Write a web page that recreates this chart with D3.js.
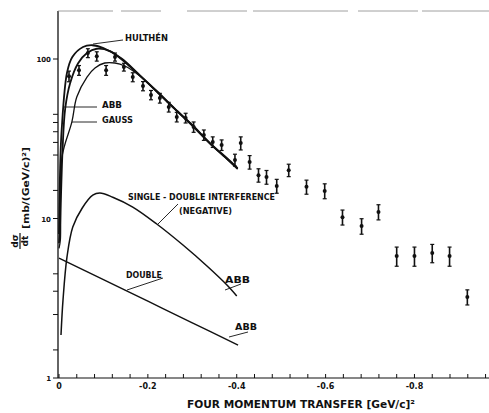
<!DOCTYPE html>
<html lang="en">
<head>
<meta charset="UTF-8">
<title>d sigma / dt vs four momentum transfer</title>
<script src="https://d3js.org/d3.v7.min.js"></script>
<style>
    body, html { margin: 0; background: #fff; }
    text { font-family: "DejaVu Sans", sans-serif; font-weight: bold; fill: #111; }
</style>
</head>
<body>
<div id="chart"></div>
<script>
// measured points: four momentum transfer t [(GeV/c)^2], dsigma/dt [mb/(GeV/c)^2], error
var pointT = [-0.0225, -0.045, -0.065, -0.085, -0.106, -0.126, -0.146, -0.166, -0.189, -0.207,
              -0.227, -0.247, -0.265, -0.285, -0.303, -0.326, -0.346, -0.366, -0.396, -0.409,
              -0.429, -0.449, -0.467, -0.49, -0.517, -0.557, -0.598, -0.638, -0.681, -0.719,
              -0.76, -0.8, -0.84, -0.879, -0.919];
var pointV = [78, 85, 109, 104, 85, 103, 89, 77, 67.7, 59.5,
              56.9, 50, 43.3, 42.7, 37.5, 33.4, 30.2, 28.9, 23.3, 29.7,
              22.6, 18.7, 18.2, 16, 20.1, 15.8, 14.9, 10.2, 8.97, 11,
              5.82, 5.82, 6.08, 5.82, 3.22];
var pointErr = [6, 6, 7, 7, 6, 6, 5, 5, 4.5, 4,
                4, 3.5, 3, 3, 2.8, 2.5, 2.3, 2.2, 2, 2.8,
                2.2, 1.8, 1.8, 1.6, 1.8, 1.6, 1.6, 1.1, 1.0, 1.2,
                0.8, 0.8, 0.8, 0.8, 0.35];

// calculated curves
var hulthenT = [0, -0.003, -0.006, -0.018, -0.03, -0.054, -0.075, -0.1, -0.14, -0.18, -0.22, -0.26, -0.3, -0.34, -0.38, -0.402];
var hulthenV = [8, 23, 36, 82, 103, 119, 122, 117, 101, 80, 63, 49, 38.6, 29.7, 23.6, 20.7];

var abbT = [0, -0.002, -0.008, -0.014, -0.025, -0.043, -0.063, -0.085, -0.115, -0.14, -0.18, -0.22, -0.26, -0.3, -0.34, -0.38, -0.402];
var abbV = [7, 8.5, 27, 49, 70.5, 94, 109, 116, 112, 100, 79.5, 62.5, 48.8, 38.3, 29.5, 23.4, 20.5];

var gaussT = [0, -0.003, -0.0067, -0.029, -0.04, -0.063, -0.081, -0.103, -0.126, -0.148, -0.18, -0.22, -0.26, -0.3, -0.34, -0.38, -0.402];
var gaussV = [6.5, 7.3, 24.3, 40.3, 57.8, 77.1, 87.9, 94.4, 94.4, 90.4, 79, 62.3, 48.6, 38.2, 29.4, 23.3, 20.4];

var interfT = [-0.0045, -0.009, -0.018, -0.031, -0.052, -0.076, -0.092, -0.121, -0.166, -0.22, -0.279, -0.333, -0.378, -0.4];
var interfV = [1.86, 3.08, 5.74, 8.85, 11.6, 14.0, 14.45, 13.6, 11.8, 9.24, 6.82, 5.04, 3.83, 3.27];

var doubleT = [0, -0.1, -0.2, -0.3, -0.403];
var doubleV = [5.65, 4.14, 3.03, 2.22, 1.61];

// axis ticks
var xLabelTicks = [0, -0.2, -0.4, -0.6, -0.8];
var xLabelText = ["0", "-0.2", "-0.4", "-0.6", "-0.8"];
var yLabelTicks = [1, 10, 100];
var yMinorTicks = [1.5, 2.5, 3.5, 4.5, 15, 25, 30, 35, 40, 45];

var W = 489, H = 413;

var svg = d3.select("#chart").append("svg")
    .attr("width", W)
    .attr("height", H);

var x = d3.scaleLinear().domain([0, -0.97]).range([59, 490]);
var y = d3.scaleLog().domain([1, 200]).range([378, 11]);

var axisX0 = 58, axisY0 = 378;

// frame: left axis, bottom axis, faded top line
svg.append("line")
    .attr("x1", axisX0).attr("x2", axisX0)
    .attr("y1", y(200)).attr("y2", axisY0)
    .attr("stroke", "#111").attr("stroke-width", 1.3);
svg.append("line")
    .attr("x1", axisX0).attr("x2", W)
    .attr("y1", axisY0).attr("y2", axisY0)
    .attr("stroke", "#111").attr("stroke-width", 1.2);
svg.append("line")
    .attr("x1", axisX0).attr("x2", W)
    .attr("y1", y(200)).attr("y2", y(200))
    .attr("stroke", "#888").attr("stroke-width", 0.8)
    .attr("stroke-dasharray", "55 8 40 26 60 6 95 10 60 4 70");

// x ticks every 0.04, pointing up
var xTicks = d3.range(0, 25).map(function(i) { return -0.04 * i; });
svg.selectAll(".xtick").data(xTicks).enter().append("line")
    .attr("class", "xtick")
    .attr("x1", function(d) { return x(d); }).attr("x2", function(d) { return x(d); })
    .attr("y1", axisY0).attr("y2", axisY0 - 4)
    .attr("stroke", "#111").attr("stroke-width", 1);

svg.selectAll(".xlab").data(xLabelTicks).enter().append("text")
    .attr("class", "xlab")
    .attr("x", function(d) { return x(d); })
    .attr("y", 389)
    .attr("text-anchor", "middle")
    .style("font-size", "8px")
    .text(function(d, i) { return xLabelText[i]; });

// y ticks pointing left
svg.selectAll(".ytick").data(yLabelTicks.concat(yMinorTicks)).enter().append("line")
    .attr("class", "ytick")
    .attr("x1", axisX0 - 5).attr("x2", axisX0)
    .attr("y1", function(d) { return y(d); }).attr("y2", function(d) { return y(d); })
    .attr("stroke", "#111").attr("stroke-width", 1);

svg.selectAll(".ylab").data(yLabelTicks).enter().append("text")
    .attr("class", "ylab")
    .attr("x", 51)
    .attr("y", function(d) { return y(d) + 3; })
    .attr("text-anchor", "end")
    .style("font-size", "7px")
    .text(function(d) { return d; });

// curves
var line = d3.line()
    .x(function(d) { return x(d[0]); })
    .y(function(d) { return y(d[1]); })
    .curve(d3.curveCatmullRom.alpha(0.5));

function zip(a, b) { return a.map(function(t, i) { return [t, b[i]]; }); }

var curves = [
    {t: hulthenT, v: hulthenV, w: 1.8},
    {t: abbT, v: abbV, w: 1.8},
    {t: gaussT, v: gaussV, w: 1.3},
    {t: interfT, v: interfV, w: 1.5},
    {t: doubleT, v: doubleV, w: 1.4}
];
curves.forEach(function(c) {
    svg.append("path")
        .datum(zip(c.t, c.v))
        .attr("fill", "none")
        .attr("stroke", "#111")
        .attr("stroke-width", c.w)
        .attr("d", line);
});

// data points with error bars
var pts = pointT.map(function(t, i) { return {t: t, v: pointV[i], e: pointErr[i]}; });
var pg = svg.selectAll(".pt").data(pts).enter().append("g").attr("class", "pt");
pg.append("line")
    .attr("x1", function(d) { return x(d.t); }).attr("x2", function(d) { return x(d.t); })
    .attr("y1", function(d) { return y(d.v + d.e); }).attr("y2", function(d) { return y(d.v - d.e); })
    .attr("stroke", "#111").attr("stroke-width", 1.6);
[1, -1].forEach(function(s) {
    pg.append("line")
        .attr("x1", function(d) { return x(d.t) - 2; }).attr("x2", function(d) { return x(d.t) + 2; })
        .attr("y1", function(d) { return y(d.v + s * d.e); }).attr("y2", function(d) { return y(d.v + s * d.e); })
        .attr("stroke", "#111").attr("stroke-width", 1.2);
});
pg.append("circle")
    .attr("cx", function(d) { return x(d.t); })
    .attr("cy", function(d) { return y(d.v); })
    .attr("r", 2)
    .attr("fill", "#111");

// annotations with leader lines
function leader(x1, y1, x2, y2) {
    svg.append("line")
        .attr("x1", x1).attr("y1", y1).attr("x2", x2).attr("y2", y2)
        .attr("stroke", "#111").attr("stroke-width", 0.9);
}
function label(txt, lx, ly, len, size) {
    svg.append("text")
        .attr("x", lx).attr("y", ly)
        .attr("textLength", len).attr("lengthAdjust", "spacingAndGlyphs")
        .style("font-size", size + "px")
        .text(txt);
}

leader(93, 44, 123, 40);
label("HULTHÉN", 125, 41, 43, 9);
leader(64, 107, 97, 107);
label("ABB", 102, 108, 20, 9);
leader(72, 122, 97, 122);
label("GAUSS", 102, 123, 31, 9);
leader(157, 225, 178, 204);
label("SINGLE - DOUBLE INTERFERENCE", 128, 200, 147, 8.5);
label("(NEGATIVE)", 179, 214, 53, 8.5);
leader(127, 290, 163, 278);
label("DOUBLE", 126, 278, 36, 9);
leader(225, 290, 241, 284);
label("ABB", 225, 283, 25, 9);
leader(229, 337, 248, 332);
label("ABB", 235, 330, 22, 9);

// axis titles
svg.append("text")
    .attr("x", 187).attr("y", 408)
    .attr("textLength", 228).attr("lengthAdjust", "spacingAndGlyphs")
    .style("font-size", "11px")
    .text("FOUR MOMENTUM TRANSFER [GeV/c]²");

var yt = svg.append("g").attr("transform", "translate(20,241) rotate(-90)");
yt.append("text").attr("x", 0).attr("y", -2).attr("text-anchor", "middle")
    .style("font-size", "9px").text("dσ");
yt.append("line").attr("x1", -8).attr("x2", 8).attr("y1", 0).attr("y2", 0)
    .attr("stroke", "#111").attr("stroke-width", 1.2);
yt.append("text").attr("x", 0).attr("y", 8).attr("text-anchor", "middle")
    .style("font-size", "9px").text("dt");
yt.append("text").attr("x", 12).attr("y", 9)
    .attr("textLength", 82).attr("lengthAdjust", "spacingAndGlyphs")
    .style("font-size", "9px").text("[mb/(GeV/c)²]");
</script>
</body>
</html>
